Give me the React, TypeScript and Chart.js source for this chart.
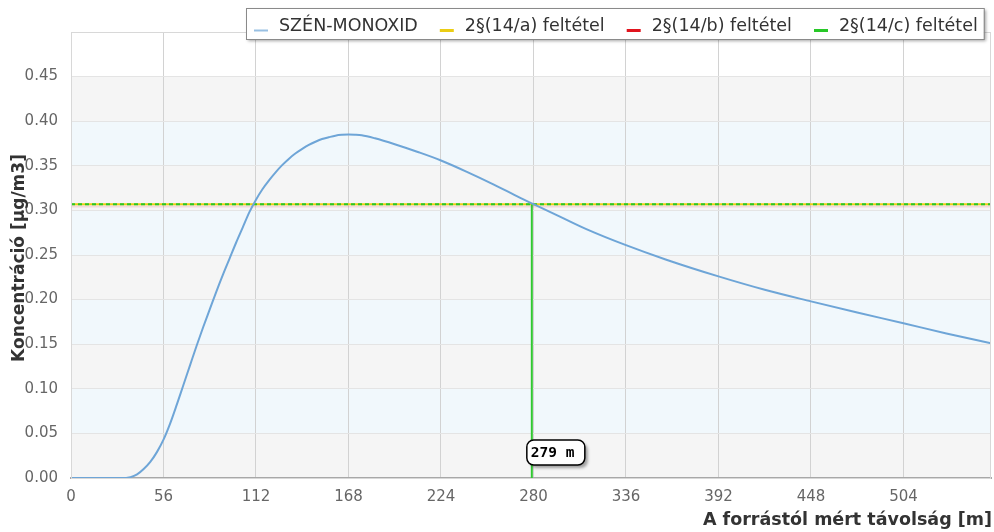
import React, { useEffect, useRef } from "react";
import { Chart, registerables } from "chart.js";

Chart.register(...registerables);

// ---- data ----
const distances = [0, 10, 20, 30, 36, 40, 44, 48, 52, 56, 60, 64, 68, 72, 76, 80, 84, 88, 92, 96, 100, 104, 108, 112, 116, 120, 124, 128, 132, 136, 140, 144, 148, 152, 156, 160, 164, 168, 172, 176, 184, 196, 210, 224, 240, 256, 272, 280, 296, 312, 336, 360, 392, 420, 448, 476, 504, 530, 557];
const concentrations = [0, 0, 0, 0, 0.001, 0.004, 0.01, 0.018, 0.029, 0.043, 0.061, 0.082, 0.104, 0.126, 0.148, 0.169, 0.189, 0.209, 0.228, 0.246, 0.264, 0.281, 0.298, 0.312, 0.324, 0.334, 0.343, 0.351, 0.358, 0.364, 0.369, 0.3735, 0.377, 0.38, 0.382, 0.3838, 0.3847, 0.385, 0.3848, 0.3842, 0.3808, 0.3742, 0.3655, 0.356, 0.343, 0.329, 0.314, 0.307, 0.293, 0.279, 0.261, 0.245, 0.226, 0.211, 0.198, 0.1855, 0.1735, 0.162, 0.151];
const thresholdA = 0.307;
const thresholdB = 0.3045;
const thresholdC = 0.307;
const crossDistance = 279;
const xMax = 557;
const xStep = 56;
const yMax = 0.5;
const yStep = 0.05;
const yLastLabel = 0.45;
const seriesNames = ["SZÉN-MONOXID", "2§(14/a) feltétel", "2§(14/b) feltétel", "2§(14/c) feltétel"];
const seriesColors = ["rgb(110,165,215)", "rgb(235,205,20)", "rgb(225,20,30)", "rgb(40,200,40)"];
const xTitle = "A forrástól mért távolság [m]";
const yTitle = "Koncentráció [µg/m3]";
const crossLabel = `${crossDistance} m`;

const FONT = "'DejaVu Sans', sans-serif";

const decorPlugin = {
  id: "decor",
  beforeDraw(chart: any) {
    const { ctx, chartArea: a, scales } = chart;
    const y = scales.y;
    ctx.save();
    ctx.fillStyle = "#ffffff";
    ctx.fillRect(0, 0, chart.width, chart.height);
    let i = 0;
    for (let v = 0; v < yLastLabel - 1e-9; v += yStep, i++) {
      const top = y.getPixelForValue(v + yStep);
      const bot = y.getPixelForValue(v);
      ctx.fillStyle = i % 2 === 0 ? "#f5f5f5" : "#f1f8fc";
      ctx.fillRect(a.left, top, a.right - a.left, bot - top);
    }
    ctx.restore();
  },
  afterDraw(chart: any) {
    const { ctx, chartArea: a, scales } = chart;
    ctx.save();
    // plot outline
    ctx.strokeStyle = "#d8d8d8";
    ctx.lineWidth = 1;
    ctx.strokeRect(a.left + 0.5, a.top + 0.5, a.right - a.left - 1, a.bottom - a.top);
    // axis titles
    ctx.fillStyle = "#333333";
    ctx.font = `bold 17.5px ${FONT}`;
    ctx.textAlign = "right";
    ctx.textBaseline = "middle";
    ctx.fillText(xTitle, a.right + 1, 520);
    ctx.save();
    ctx.font = `bold 17px ${FONT}`;
    ctx.translate(20, (a.top + a.bottom) / 2 + 3);
    ctx.rotate(-Math.PI / 2);
    ctx.textAlign = "center";
    ctx.fillText(yTitle, 0, 0);
    ctx.restore();

    // crossing label
    const lx = scales.x.getPixelForValue(crossDistance) - 5;
    const ly = 440;
    const w = 58, h = 25, r = 7;
    ctx.save();
    ctx.shadowColor = "rgba(0,0,0,0.35)";
    ctx.shadowOffsetX = 3;
    ctx.shadowOffsetY = 3;
    ctx.shadowBlur = 3;
    ctx.beginPath();
    ctx.roundRect(lx, ly, w, h, r);
    ctx.fillStyle = "#ffffff";
    ctx.fill();
    ctx.restore();
    ctx.beginPath();
    ctx.roundRect(lx, ly, w, h, r);
    ctx.strokeStyle = "#000";
    ctx.lineWidth = 1.5;
    ctx.stroke();
    ctx.fillStyle = "#000";
    ctx.font = `bold 14.5px 'DejaVu Sans Mono', monospace`;
    ctx.textAlign = "left";
    ctx.textBaseline = "middle";
    ctx.fillText(crossLabel, lx + 4, ly + h / 2 + 1);

    // legend
    ctx.font = `17.5px ${FONT}`;
    const markerW = 14, textOffset = 25, itemGap = 22;
    let x = 254;
    const positions: number[] = [];
    for (const name of seriesNames) {
      positions.push(x);
      x += textOffset + ctx.measureText(name).width + itemGap;
    }
    const boxL = 246, boxT = 8, boxR = x - itemGap + 6, boxB = 39;
    ctx.save();
    ctx.shadowColor = "rgba(0,0,0,0.35)";
    ctx.shadowOffsetX = 2;
    ctx.shadowOffsetY = 2;
    ctx.shadowBlur = 3;
    ctx.fillStyle = "#ffffff";
    ctx.fillRect(boxL, boxT, boxR - boxL, boxB - boxT);
    ctx.restore();
    ctx.strokeStyle = "#8a8a8a";
    ctx.lineWidth = 1;
    ctx.strokeRect(boxL + 0.5, boxT + 0.5, boxR - boxL, boxB - boxT);
    seriesNames.forEach((name, i) => {
      const px = positions[i];
      ctx.strokeStyle = seriesColors[i];
      ctx.lineWidth = i === 0 ? 2 : 3;
      ctx.globalAlpha = i === 0 ? 0.7 : 1;
      ctx.beginPath();
      ctx.moveTo(px, 30.5);
      ctx.lineTo(px + markerW, 30.5);
      ctx.stroke();
      ctx.globalAlpha = 1;
      ctx.fillStyle = "#333";
      ctx.textAlign = "left";
      ctx.textBaseline = "middle";
      ctx.fillText(name, px + textOffset, 26);
    });
    ctx.restore();
  },
};

export default function App() {
  const ref = useRef<HTMLCanvasElement>(null);
  useEffect(() => {
    document.body.style.margin = "0";
    const mainData = distances.map((d, i) => ({ x: d, y: concentrations[i] }));
    const chart = new Chart(ref.current!, {
      type: "line",
      data: {
        datasets: [
          {
            label: seriesNames[0],
            data: mainData,
            borderColor: seriesColors[0],
            borderWidth: 2,
            pointRadius: 0,
            cubicInterpolationMode: "monotone",
            order: 1,
          },
          {
            label: seriesNames[1],
            data: [{ x: 0, y: thresholdA }, { x: xMax, y: thresholdA }],
            borderColor: seriesColors[1],
            borderWidth: 2,
            pointRadius: 0,
            order: 4,
          },
          {
            label: seriesNames[2],
            data: [{ x: 0, y: thresholdB }, { x: xMax, y: thresholdB }],
            borderColor: "rgba(225,20,30,0.12)",
            borderWidth: 2,
            pointRadius: 0,
            order: 5,
          },
          {
            label: seriesNames[3],
            data: [{ x: 0, y: thresholdC }, { x: xMax, y: thresholdC }],
            borderColor: seriesColors[3],
            borderWidth: 2,
            borderDash: [4, 3],
            pointRadius: 0,
            order: 3,
          },
          {
            label: "cross",
            data: [{ x: crossDistance, y: 0 }, { x: crossDistance, y: thresholdC }],
            borderColor: "rgb(50,200,50)",
            borderWidth: 2,
            pointRadius: 0,
            order: 2,
          },
        ],
      },
      options: {
        responsive: false,
        animation: false,
        maintainAspectRatio: false,
        layout: { padding: { left: 0, top: 32, right: 3, bottom: 0 } },
        plugins: { legend: { display: false }, tooltip: { enabled: false }, title: { display: false } },
        scales: {
          x: {
            type: "linear",
            min: 0,
            max: xMax,
            afterBuildTicks: (s: any) => {
              const t = [];
              for (let v = 0; v < xMax; v += xStep) t.push({ value: v });
              s.ticks = t;
            },
            afterFit: (s: any) => {
              s.height = 54;
            },
            ticks: {
              color: "#666",
              font: { family: FONT, size: 15 },
              padding: 10,
              maxRotation: 0,
              autoSkip: false,
            },
            grid: { color: "#d2d2d2", drawTicks: false, lineWidth: 1 },
            border: { display: true, color: "#a8a8a8", width: 2 },
          },
          y: {
            type: "linear",
            min: 0,
            max: yMax,
            afterBuildTicks: (s: any) => {
              const t = [];
              for (let i = 0; i * yStep <= yLastLabel + 1e-9; i++) t.push({ value: +(i * yStep).toFixed(2) });
              s.ticks = t;
            },
            afterFit: (s: any) => {
              s.width = 71;
            },
            ticks: {
              color: "#666",
              font: { family: FONT, size: 15 },
              padding: 13,
              callback: (v: any) => Number(v).toFixed(2),
            },
            grid: { color: "#e4e4e4", drawTicks: false, lineWidth: 1 },
            border: { display: false },
          },
        },
      },
      plugins: [decorPlugin],
    } as any);
    return () => chart.destroy();
  }, []);
  return (
    <div style={{ position: "absolute", left: 0, top: 0, width: 994, height: 532 }}>
      <canvas ref={ref} width={994} height={532} style={{ width: 994, height: 532 }} />
    </div>
  );
}
